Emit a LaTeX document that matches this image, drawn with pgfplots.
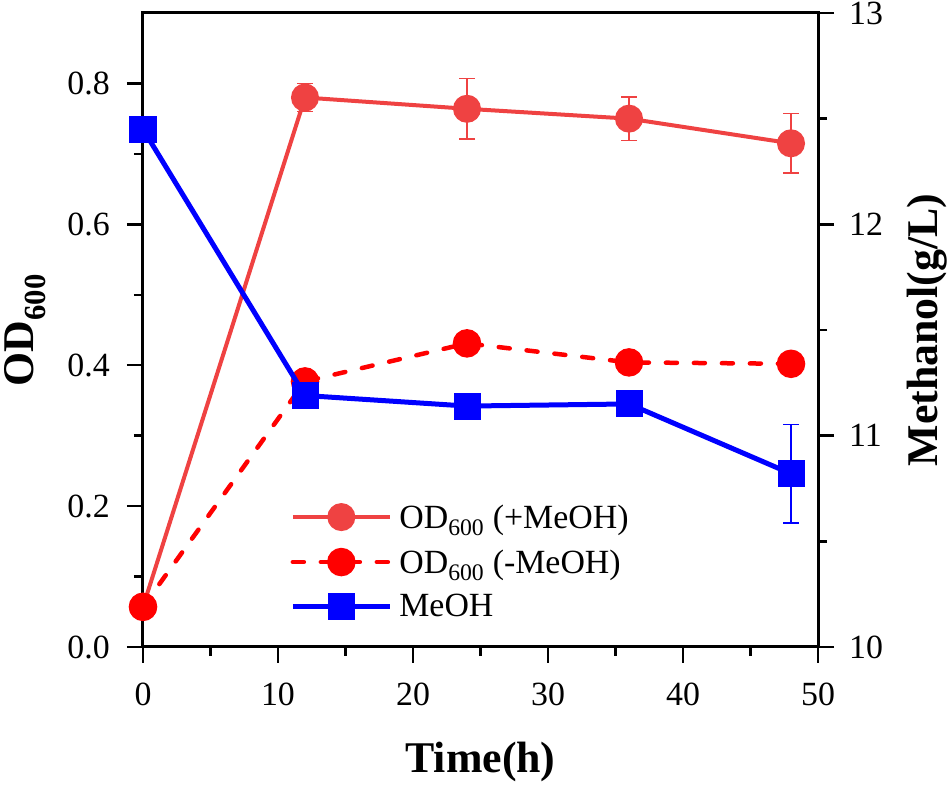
\documentclass[border=0pt]{standalone}
\usepackage{pgfplots}
\pgfplotsset{compat=1.18}
\usepackage{fontspec}
\setmainfont{Liberation Serif}
\definecolor{lred}{RGB}{239,66,66}
\definecolor{pred}{RGB}{255,0,0}
\definecolor{pblue}{RGB}{0,0,255}
\pgfplotsset{
  common/.style={
    width=675bp, height=634bp, scale only axis,
    xmin=0, xmax=50, clip=false,
    /pgf/number format/assume math mode=true,
    tick align=outside,
    major tick length=16bp, minor tick length=9bp,
    tick style={line width=2.5bp, black},
    axis line style={-, line width=3bp},
    tick label style={font=\fontsize{34}{40}\selectfont, inner sep=0pt},
    label style={font=\fontsize{44}{50}\selectfont\bfseries},
  }
}
\begin{document}
\begin{tikzpicture}
\begin{axis}[common, name=ax,
  ymin=0, ymax=0.9,
  xtick={0,10,20,30,40,50}, minor x tick num=1,
  ytick={0,0.2,0.4,0.6,0.8}, minor y tick num=1,
  xtick pos=left, ytick pos=left,
  yticklabel style={/pgf/number format/.cd, fixed, fixed zerofill, precision=1},
  xticklabel shift=20bp, yticklabel shift=17bp,
  xlabel={Time(h)}, ylabel={OD\textsubscript{600}},
  xlabel style={at={(axis description cs:0.5,-0.1814)}, anchor=center},
  ylabel style={at={(axis description cs:-0.175,0.5)}, anchor=center},
  legend style={at={(axis description cs:0.218,0.236)}, anchor=north west,
    draw=none, fill=none, inner sep=0pt, row sep=6bp,
    font=\fontsize{34}{40}\selectfont,
    nodes={inner sep=7bp}},
  legend cell align=left,
  legend image code/.code={\draw[mark repeat=2,mark phase=2,#1] plot coordinates {(0bp,0bp)(48.5bp,0bp)(97bp,0bp)};},
]
\addplot[lred, line width=4bp, mark=*, mark size=12bp, mark options={solid},
  error bars/.cd, y dir=both, y explicit,
  error bar style={line width=1.5bp, lred, solid},
  error mark options={rotate=90, mark size=8bp, line width=1.5bp, lred}]
  table[x=t, y=v, y error=e] {
t v e
0 0.057 0
12 0.780 0.020
24 0.764 0.043
36 0.750 0.031
48 0.715 0.042
};
\addlegendentry{OD\textsubscript{600} (+MeOH)}
\addplot[pred, line width=4.5bp, line cap=round, dash pattern=on 11bp off 17bp, mark=*, mark size=12bp, mark options={solid}]
  table[x=t, y=v] {
t v
0 0.057
12 0.377
24 0.431
36 0.404
48 0.402
};
\addlegendentry{OD\textsubscript{600} (-MeOH)}
\addlegendimage{pblue, line width=5bp, mark=square*, mark size=11bp, mark options={solid}}
\addlegendentry{MeOH}
\end{axis}
\begin{axis}[common,
  axis y line*=right, axis x line=none,
  ymin=10, ymax=13,
  ytick={10,11,12,13}, minor y tick num=1,
  yticklabel shift=15bp,
  ylabel={Methanol(g/L)},
  ylabel style={at={(axis description cs:1.1615,0.5)}, anchor=center, rotate=0},
]
\addplot[pblue, line width=5bp, mark=square*, mark size=11bp, mark options={solid},
  error bars/.cd, y dir=both, y explicit,
  error bar style={line width=1.5bp, pblue, solid},
  error mark options={rotate=90, mark size=8bp, line width=1.5bp, pblue}]
  table[x=t, y=v, y error=e] {
t v e
0 12.45 0
12 11.19 0
24 11.14 0
36 11.15 0
48 10.82 0.233
};
\end{axis}
\pgfresetboundingbox
\path ([shift={(-143bp,-141bp)}]ax.south west) rectangle ([shift={(134bp,13bp)}]ax.north east);
\end{tikzpicture}
\end{document}
